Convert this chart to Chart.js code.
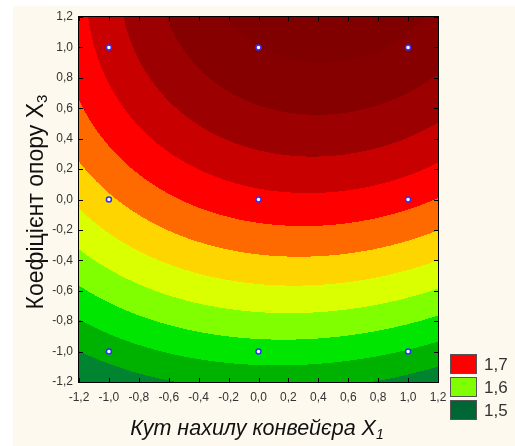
<!DOCTYPE html>
<html>
<head>
<meta charset="utf-8">
<script src="https://cdn.jsdelivr.net/npm/chart.js@4.4.0/dist/chart.umd.min.js"></script>
<style>
  body { margin: 0; background: #fff; }
  #wrap { width: 515px; height: 446px; }
</style>
</head>
<body>
<div id="wrap"><canvas id="surface" width="515" height="446"></canvas></div>
<script>
// design points of the experiment (X1, X3)
const x1Points = [-1, 0, 1, -1, 0, 1, -1, 0, 1];
const x3Points = [1, 1, 1, 0, 0, 0, -1, -1, -1];

// fitted response: b0, b1, b3, b11, b33, b13, b113, b333
const coef = [1.7173, 0.0182, 0.109, -0.0279, -0.0236, 0.0118, -0.0066, -0.0033];

// contour levels, each one opens a colour band (lowest first)
const levels = [1.5, 1.525, 1.55, 1.575, 1.6, 1.625, 1.65, 1.675, 1.7, 1.725, 1.75, 1.775, 1.8];
const bandColors = ['#006633', '#008430', '#00b200', '#00e600', '#80ff00', '#daff00',
    '#ffd500', '#ff6a00', '#ff0000', '#c80000', '#9c0000', '#870000', '#800000'];

const legendLabels = ['1,7', '1,6', '1,5'];
const legendColors = ['#ff0000', '#80ff00', '#006633'];

const tickValues = [-1.2, -1.0, -0.8, -0.6, -0.4, -0.2, 0.0, 0.2, 0.4, 0.6, 0.8, 1.0, 1.2];

const xTitle = 'Кут нахилу конвейєра X';
const xTitleSub = '1';
const yTitle = 'Коефіцієнт опору X';
const yTitleSub = '3';

function response(a, b) {
    return coef[0] + coef[1] * a + coef[2] * b + coef[3] * a * a + coef[4] * b * b +
        coef[5] * a * b + coef[6] * a * a * b + coef[7] * b * b * b;
}

function hexToRgb(h) {
    const n = parseInt(h.slice(1), 16);
    return [(n >> 16) & 255, (n >> 8) & 255, n & 255];
}

function fmt(v) {
    if (Math.abs(v) < 1e-9) v = 0;
    return v.toFixed(1).replace('.', ',');
}

const FONT = '"Liberation Sans", Arial, sans-serif';

// paper background
const backgroundPlugin = {
    id: 'paper',
    beforeDraw(chart) {
        const ctx = chart.ctx;
        ctx.save();
        ctx.fillStyle = '#ffffff';
        ctx.fillRect(0, 0, chart.width, chart.height);
        ctx.fillStyle = '#fdf9ee';
        ctx.fillRect(13, 6, chart.width - 13, chart.height - 6);
        ctx.restore();
    }
};

// filled contour bands painted pixel by pixel through the scales
const contourPlugin = {
    id: 'contour',
    beforeDatasetsDraw(chart) {
        const ctx = chart.ctx;
        const a = chart.chartArea;
        const xs = chart.scales.x, ys = chart.scales.y;
        const w = Math.round(a.right - a.left), h = Math.round(a.bottom - a.top);
        const off = document.createElement('canvas');
        off.width = w;
        off.height = h;
        const octx = off.getContext('2d');
        const img = octx.createImageData(w, h);
        const rgb = bandColors.map(hexToRgb);
        for (let j = 0; j < h; j++) {
            const v3 = ys.getValueForPixel(a.top + j + 0.5);
            for (let i = 0; i < w; i++) {
                const v1 = xs.getValueForPixel(a.left + i + 0.5);
                const val = response(v1, v3);
                let k = 0;
                while (k + 1 < levels.length && val >= levels[k + 1]) k++;
                const p = (j * w + i) * 4;
                img.data[p] = rgb[k][0];
                img.data[p + 1] = rgb[k][1];
                img.data[p + 2] = rgb[k][2];
                img.data[p + 3] = 255;
            }
        }
        octx.putImageData(img, 0, 0);
        ctx.drawImage(off, a.left, a.top);
    }
};

// frame, inner tick marks, axis titles and legend
const decorPlugin = {
    id: 'decor',
    afterDraw(chart) {
        const ctx = chart.ctx;
        const a = chart.chartArea;
        const xs = chart.scales.x, ys = chart.scales.y;
        ctx.save();
        ctx.strokeStyle = '#000';
        ctx.lineWidth = 1;
        ctx.strokeRect(Math.round(a.left) - 0.5, Math.round(a.top) - 0.5,
            Math.round(a.right - a.left) + 1, Math.round(a.bottom - a.top) + 1);
        ctx.beginPath();
        tickValues.forEach(function(v) {
            const px = Math.round(xs.getPixelForValue(v)) + 0.5;
            ctx.moveTo(px, a.bottom);
            ctx.lineTo(px, a.bottom - 4);
            ctx.moveTo(px, a.top);
            ctx.lineTo(px, a.top + 4);
            const py = Math.round(ys.getPixelForValue(v)) + 0.5;
            ctx.moveTo(a.left, py);
            ctx.lineTo(a.left + 4, py);
            ctx.moveTo(a.right, py);
            ctx.lineTo(a.right - 4, py);
        });
        ctx.stroke();

        // axis titles with subscripts
        ctx.fillStyle = '#111';
        ctx.textBaseline = 'alphabetic';
        ctx.font = 'italic 21.5px ' + FONT;
        let mainW = ctx.measureText(xTitle).width;
        ctx.font = 'italic 14px ' + FONT;
        let subW = ctx.measureText(xTitleSub).width;
        let sx = 257 - (mainW + subW) / 2;
        ctx.font = 'italic 21.5px ' + FONT;
        ctx.textAlign = 'left';
        ctx.fillText(xTitle, sx, 435);
        ctx.font = 'italic 14px ' + FONT;
        ctx.fillText(xTitleSub, sx + mainW, 439);

        ctx.translate(43, 202);
        ctx.rotate(-Math.PI / 2);
        ctx.font = '23px ' + FONT;
        mainW = ctx.measureText(yTitle).width;
        ctx.font = '15px ' + FONT;
        subW = ctx.measureText(yTitleSub).width;
        sx = -(mainW + subW) / 2;
        ctx.font = '23px ' + FONT;
        ctx.fillText(yTitle, sx, 0);
        ctx.font = '15px ' + FONT;
        ctx.fillText(yTitleSub, sx + mainW, 4);
        ctx.restore();

        // legend
        ctx.save();
        ctx.font = '17px ' + FONT;
        ctx.textBaseline = 'middle';
        ctx.textAlign = 'left';
        legendLabels.forEach(function(lbl, i) {
            const by = 355 + i * 23;
            ctx.fillStyle = legendColors[i];
            ctx.fillRect(451, by, 25, 18);
            ctx.strokeStyle = '#555';
            ctx.strokeRect(450.5, by - 0.5, 26, 19);
            ctx.fillStyle = '#333';
            ctx.fillText(lbl, 484, by + 10);
        });
        ctx.restore();
    }
};

const scaleCommon = {
    type: 'linear',
    min: -1.2,
    max: 1.2,
    grid: { display: false, drawTicks: false },
    border: { display: false },
    afterBuildTicks: function(scale) {
        scale.ticks = tickValues.map(function(v) { return { value: v }; });
    },
    ticks: {
        color: '#333',
        font: { family: FONT, size: 12 },
        callback: function(v) { return fmt(v); }
    }
};

new Chart(document.getElementById('surface'), {
    type: 'scatter',
    data: {
        datasets: [{
            data: x1Points.map(function(v, i) { return { x: v, y: x3Points[i] }; }),
            pointRadius: 2.5,
            pointHoverRadius: 2.5,
            pointBackgroundColor: '#ffffff',
            pointBorderColor: '#3030ff',
            pointBorderWidth: 1.5
        }]
    },
    options: {
        responsive: false,
        animation: false,
        events: [],
        layout: { padding: { left: 0, top: 17, right: 77, bottom: 0 } },
        plugins: {
            legend: { display: false },
            tooltip: { enabled: false }
        },
        scales: {
            x: Object.assign({}, scaleCommon, {
                position: 'bottom',
                ticks: Object.assign({}, scaleCommon.ticks, { padding: 8, maxRotation: 0, autoSkip: false }),
                afterFit: function(scale) { scale.height = 64; }
            }),
            y: Object.assign({}, scaleCommon, {
                position: 'left',
                ticks: Object.assign({}, scaleCommon.ticks, { padding: 6, autoSkip: false }),
                afterFit: function(scale) { scale.width = 79; }
            })
        }
    },
    plugins: [backgroundPlugin, contourPlugin, decorPlugin]
});
</script>
</body>
</html>
